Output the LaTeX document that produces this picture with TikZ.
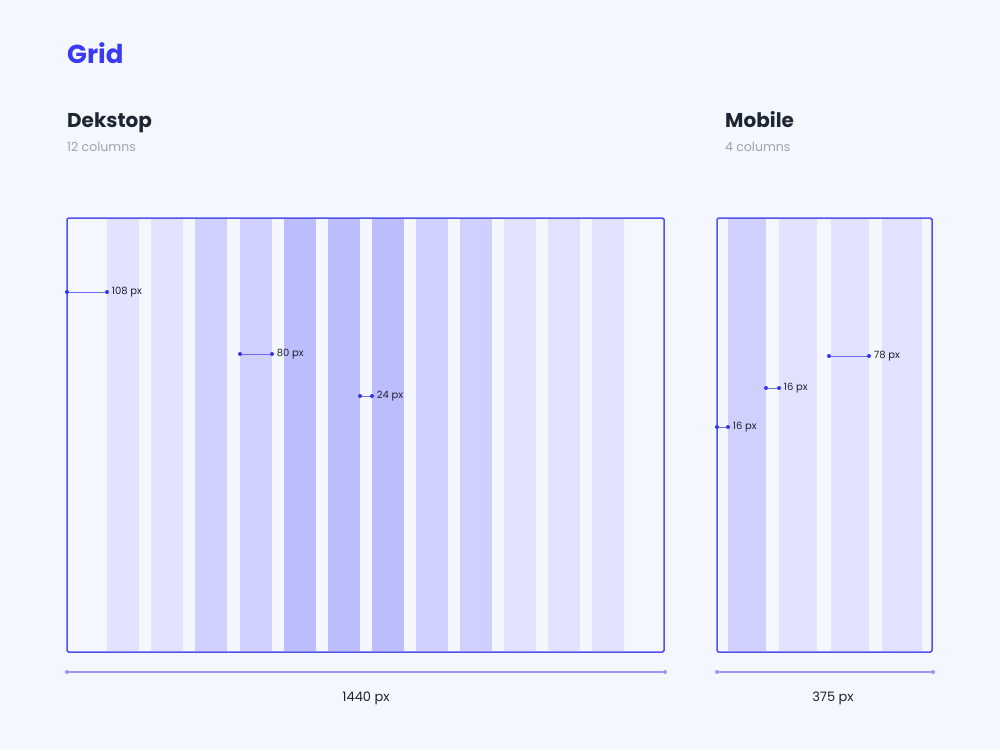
\documentclass[tikz,border=0pt]{standalone}
\usepackage{fontspec}
\setmainfont{Poppins}
\definecolor{bgcol}{HTML}{F4F7FE}
\definecolor{collight}{HTML}{E1E2FD}
\definecolor{colmid}{HTML}{CFD0FD}
\definecolor{coldark}{HTML}{BBBDFD}
\definecolor{framecol}{HTML}{5252F2}
\definecolor{dotblue}{HTML}{3434EE}
\definecolor{lineblue}{HTML}{6C6CF4}
\definecolor{widthcol}{HTML}{9A9AF4}
\definecolor{titleblue}{HTML}{3A3AF4}
\definecolor{headdark}{HTML}{1F2633}
\definecolor{subgray}{HTML}{9EA3B0}
\definecolor{lbldark}{HTML}{1E2230}
\begin{document}
\begin{tikzpicture}[x=1pt, y=-1pt,
  dot/.style={fill=dotblue, circle, inner sep=0pt, minimum size=4pt},
  wdot/.style={fill=widthcol, circle, inner sep=0pt, minimum size=4pt},
  measure/.style={draw=lineblue, line width=1pt},
  widthline/.style={draw=widthcol, line width=1.2pt},
  gridframe/.style={draw=framecol, line width=1.5pt, rounded corners=1.5pt},
  lbl/.style={text=lbldark, font=\fontsize{10}{12}\selectfont, inner sep=1pt, label distance=1.5pt},
  heading/.style={anchor=base west, inner sep=0pt, text=headdark, font=\fontsize{20}{24}\selectfont\bfseries},
  sub/.style={anchor=base west, inner sep=0pt, text=subgray, font=\fontsize{12.5}{15}\selectfont},
  total/.style={anchor=base, inner sep=0pt, text=lbldark, font=\fontsize{13}{16}\selectfont}]
\useasboundingbox (0,0) rectangle (1000,750);
\fill[bgcol] (0,0) rectangle (1000,750);

% titles
\node (grid) at (67,63) [anchor=base west, inner sep=0pt, text=titleblue, font=\fontsize{26}{30}\selectfont\bfseries] {Grid};
\node (desk) at (67,127) [heading] {Dekstop};
\node (deskcols) at (67,151) [sub] {12 columns};
\node (mob) at (725,127) [heading] {Mobile};
\node (mobcols) at (725,151) [sub] {4 columns};

% desktop columns
\fill[collight] (107,219) rectangle (139,651);
\fill[collight] (151,219) rectangle (183,651);
\fill[colmid] (195,219) rectangle (227,651);
\fill[colmid] (240,219) rectangle (272,651);
\fill[coldark] (284,219) rectangle (316,651);
\fill[coldark] (328,219) rectangle (360,651);
\fill[coldark] (372,219) rectangle (404,651);
\fill[colmid] (416,219) rectangle (448,651);
\fill[colmid] (460,219) rectangle (492,651);
\fill[collight] (504,219) rectangle (536,651);
\fill[collight] (548,219) rectangle (580,651);
\fill[collight] (592,219) rectangle (624,651);
\draw[gridframe] (67,218) rectangle (664,652);

% mobile columns
\fill[colmid] (728,219) rectangle (766,651);
\fill[collight] (779,219) rectangle (817,651);
\fill[collight] (831,219) rectangle (869,651);
\fill[collight] (882,219) rectangle (922,651);
\draw[gridframe] (717,218) rectangle (932,652);

% desktop measures
\node (margina) at (67,292) [dot] {};
\node (marginb) at (107,292) [dot, label={[lbl]right:108 px}] {};
\node (cola) at (240,354) [dot] {};
\node (colb) at (272,354) [dot, label={[lbl]right:80 px}] {};
\node (guta) at (360,396) [dot] {};
\node (gutb) at (372,396) [dot, label={[lbl]right:24 px}] {};
\draw[measure] (margina) -- (marginb);
\draw[measure] (cola) -- (colb);
\draw[measure] (guta) -- (gutb);

% mobile measures
\node (mcola) at (829,356) [dot] {};
\node (mcolb) at (869,356) [dot, label={[lbl]right:78 px}] {};
\node (mguta) at (766,388) [dot] {};
\node (mgutb) at (779,388) [dot, label={[lbl]right:16 px}] {};
\node (mmara) at (717,427) [dot] {};
\node (mmarb) at (728,427) [dot, label={[lbl]right:16 px}] {};
\draw[measure] (mcola) -- (mcolb);
\draw[measure] (mguta) -- (mgutb);
\draw[measure] (mmara) -- (mmarb);

% total widths
\node (dwa) at (67,672) [wdot] {};
\node (dwb) at (665,672) [wdot] {};
\node (mwa) at (717,672) [wdot] {};
\node (mwb) at (933,672) [wdot] {};
\draw[widthline] (dwa) -- (dwb);
\draw[widthline] (mwa) -- (mwb);
\node (dtotal) at (366,701) [total] {1440 px};
\node (mtotal) at (833,701) [total] {375 px};
\end{tikzpicture}
\end{document}
